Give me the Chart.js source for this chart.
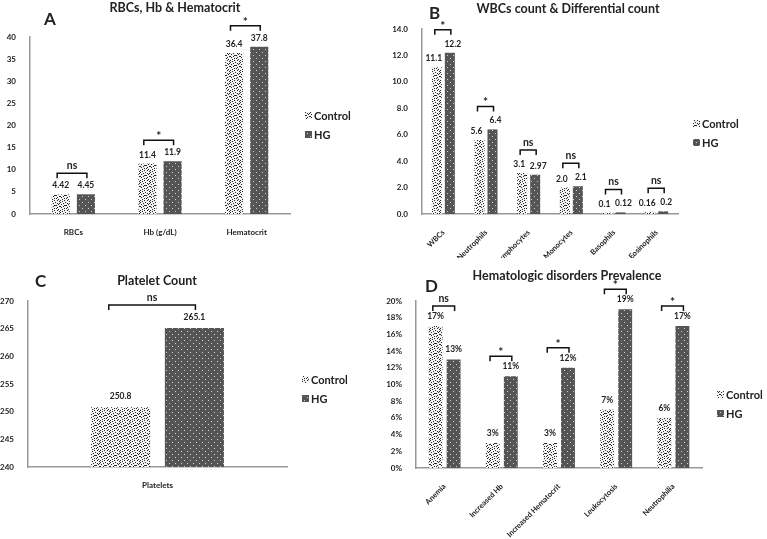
<!DOCTYPE html>
<html>
<head>
<meta charset="utf-8">
<script src="https://cdn.jsdelivr.net/npm/chart.js@4"></script>
<style>
  body { margin: 0; background: #fff; }
  #wrap { position: relative; width: 767px; height: 539px; background: #fff; }
  canvas { position: absolute; }
</style>
</head>
<body>
<div id="wrap">
  <canvas id="chartA" width="380" height="240" style="left:0;top:0"></canvas>
  <canvas id="chartD" width="387" height="281" style="left:380px;top:258px"></canvas>
  <canvas id="chartB" width="387" height="262" style="left:380px;top:0"></canvas>
  <canvas id="chartC" width="380" height="299" style="left:0;top:240px"></canvas>
</div>
<script>
const groups = ['Control', 'HG']

const rbcLabels = ['RBCs', 'Hb (g/dL)', 'Hematocrit']
const rbcControl = [4.42, 11.4, 36.4]
const rbcHG = [4.45, 11.9, 37.8]
const rbcSig = ['ns', '*', '*']

const wbcLabels = ['WBCs', 'Neutrophils', 'Lymphocytes', 'Monocytes', 'Basophils', 'Eosinophils']
const wbcControl = [11.1, 5.6, 3.1, 2.0, 0.1, 0.16]
const wbcHG = [12.2, 6.4, 2.97, 2.1, 0.12, 0.2]
const wbcSig = ['*', '*', 'ns', 'ns', 'ns', 'ns']

const pltLabels = ['Platelets']
const pltControl = [250.8]
const pltHG = [265.1]
const pltSig = ['ns']

const disLabels = ['Anemia', 'Increased Hb', 'Increased Hematocrit', 'Leukocytosis', 'Neutrophilia']
const disControl = [17, 3, 3, 7, 6]
const disHG = [13, 11, 12, 19, 17]
const disSig = ['ns', '*', '*', '*', '*']

const FONT = 'Lato, "Open Sans", sans-serif'
Chart.defaults.font.family = FONT
Chart.defaults.color = '#222'

// fill patterns: speckled white for Control, dotted dark grey for HG
const makePattern = (bg, dot, pts, size) => {
  const c = document.createElement('canvas')
  c.width = size
  c.height = size
  const g = c.getContext('2d')
  g.fillStyle = bg
  g.fillRect(0, 0, size, size)
  g.fillStyle = dot
  pts.forEach(p => g.fillRect(p[0], p[1], 1, 1))
  return g.createPattern(c, 'repeat')
}
const speckle = [
  [0, 0], [4, 0], [7, 0], [2, 1], [9, 1], [5, 2], [0, 2], [7, 3], [3, 3], [1, 4],
  [8, 4], [5, 5], [6, 5], [0, 6], [3, 6], [9, 6], [7, 7], [1, 7], [4, 8], [6, 8],
  [2, 9], [8, 9], [9, 3], [4, 5]
]
const ctl = makePattern('#f2f2f2', '#2a2a2a', speckle, 10)
const hg = makePattern('#555555', '#cfcfcf', [[1, 1], [4, 4]], 6)

const annotate = {
  id: 'annotate',
  afterDatasetsDraw(chart, args, o) {
    const ctx = chart.ctx
    const area = chart.chartArea
    const m0 = chart.getDatasetMeta(0)
    const m1 = chart.getDatasetMeta(1)
    ctx.save()
    ctx.fillStyle = '#222'
    ctx.textAlign = 'center'
    ctx.textBaseline = 'alphabetic'

    // value labels
    ctx.font = 'bold 8.5px ' + FONT
    chart.data.datasets.forEach((ds, i) => {
      chart.getDatasetMeta(i).data.forEach((bar, j) => {
        ctx.fillText(o.fmt(ds.data[j]), bar.x + o.shift[i], bar.y - o.labelGap)
      })
    })

    // significance brackets
    ctx.strokeStyle = '#111'
    ctx.lineWidth = 1.5
    o.sig.forEach((s, j) => {
      const a = m0.data[j]
      const b = m1.data[j]
      const y = Math.min(a.y, b.y) - o.bracketGap
      const x1 = a.x - a.width * 0.2
      const x2 = b.x + 1
      ctx.beginPath()
      ctx.moveTo(x1, y + 5)
      ctx.lineTo(x1, y)
      ctx.lineTo(x2, y)
      ctx.lineTo(x2, y + 5)
      ctx.stroke()
      ctx.font = 'bold ' + (s === '*' ? 12 : 10.5) + 'px ' + FONT
      ctx.fillText(s, (x1 + x2) / 2, y - (s === '*' ? 0 : 4))
    })

    // title and panel letter
    ctx.textBaseline = 'middle'
    ctx.font = 'bold 12.5px ' + FONT
    ctx.fillText(o.title, o.titleX, o.titleY)
    ctx.textAlign = 'left'
    ctx.font = 'bold 17px ' + FONT
    ctx.fillText(o.letter, o.letterX, o.letterY)

    // legend
    ctx.font = 'bold 11px ' + FONT
    chart.data.datasets.forEach((ds, i) => {
      const y = o.legendY + i * 19
      ctx.fillStyle = ds.backgroundColor
      ctx.fillRect(area.right + 15, y - 3, 7, 7)
      ctx.fillStyle = '#222'
      ctx.fillText(ds.label, area.right + 24, y + 1)
    })
    ctx.restore()
  }
}

const fixWidth = w => scale => { scale.width = w }
const fixHeight = h => scale => { scale.height = h }

const makeChart = (id, labels, control, hgData, cfg) => {
  new Chart(id, {
    type: 'bar',
    data: {
      labels,
      datasets: [
        { label: groups[0], data: control, backgroundColor: ctl, borderWidth: 0,
          categoryPercentage: cfg.cat, barPercentage: cfg.bar },
        { label: groups[1], data: hgData, backgroundColor: hg, borderWidth: 0,
          categoryPercentage: cfg.cat, barPercentage: cfg.bar }
      ]
    },
    options: {
      responsive: false,
      animation: false,
      devicePixelRatio: 1,
      layout: { padding: cfg.padding },
      plugins: {
        legend: { display: false },
        tooltip: { enabled: false },
        annotate: cfg.annot
      },
      scales: {
        x: {
          grid: { display: false },
          border: { color: '#999', width: 1.5 },
          afterFit: fixHeight(cfg.xH),
          ticks: {
            font: { size: cfg.xFont, weight: 'bold' },
            color: '#222',
            padding: 6,
            autoSkip: false,
            minRotation: cfg.rot,
            maxRotation: cfg.rot
          }
        },
        y: {
          min: cfg.min,
          max: cfg.max,
          grid: { display: false },
          border: { color: '#999', width: 1.5 },
          afterFit: fixWidth(cfg.yW),
          ticks: {
            stepSize: cfg.step,
            font: { size: 8, weight: 'bold' },
            color: '#222',
            padding: 6,
            callback: cfg.tick
          }
        }
      }
    },
    plugins: [annotate]
  })
}

makeChart('chartA', rbcLabels, rbcControl, rbcHG, {
  cat: 0.58, bar: 0.72, rot: 0, min: 0, max: 40, step: 5, yW: 30, xH: 26, xFont: 8,
  padding: { top: 37, right: 90, bottom: 0, left: 0 },
  tick: v => v,
  annot: { sig: rbcSig, fmt: v => String(v), shift: [0, 0], labelGap: 6, bracketGap: 21,
    title: 'RBCs, Hb & Hematocrit', titleX: 175, titleY: 8,
    letter: 'A', letterX: 44, letterY: 20, legendY: 115 }
})

makeChart('chartB', wbcLabels, wbcControl, wbcHG, {
  cat: 0.61, bar: 0.77, rot: 45, min: 0, max: 14, step: 2, yW: 42, xH: 44, xFont: 7.5,
  padding: { top: 29, right: 89, bottom: 4, left: 0 },
  tick: v => v.toFixed(1),
  annot: { sig: wbcSig, fmt: v => (Number.isInteger(v) ? v.toFixed(1) : String(v)), shift: [-3, 3],
    labelGap: 6, bracketGap: 23,
    title: 'WBCs count & Differential count', titleX: 188, titleY: 9,
    letter: 'B', letterX: 49, letterY: 14, legendY: 123 }
})

makeChart('chartC', pltLabels, pltControl, pltHG, {
  cat: 0.57, bar: 0.8, rot: 0, min: 240, max: 270, step: 5, yW: 28, xH: 72, xFont: 8,
  padding: { top: 61, right: 93, bottom: 0, left: 0 },
  tick: v => v,
  annot: { sig: pltSig, fmt: v => String(v), shift: [0, 0], labelGap: 8, bracketGap: 23,
    title: 'Platelet Count', titleX: 157, titleY: 41,
    letter: 'C', letterX: 35, letterY: 42, legendY: 139 }
})

makeChart('chartD', disLabels, disControl, disHG, {
  cat: 0.63, bar: 0.77, rot: 45, min: 0, max: 20, step: 2, yW: 36, xH: 71, xFont: 7.5,
  padding: { top: 43, right: 65, bottom: 0, left: 0 },
  tick: v => v + '%',
  annot: { sig: disSig, fmt: v => v + '%', shift: [0, 0], labelGap: 7, bracketGap: 20,
    title: 'Hematologic disorders Prevalence', titleX: 187, titleY: 18,
    letter: 'D', letterX: 45, letterY: 29, legendY: 136 }
})
</script>
</body>
</html>
